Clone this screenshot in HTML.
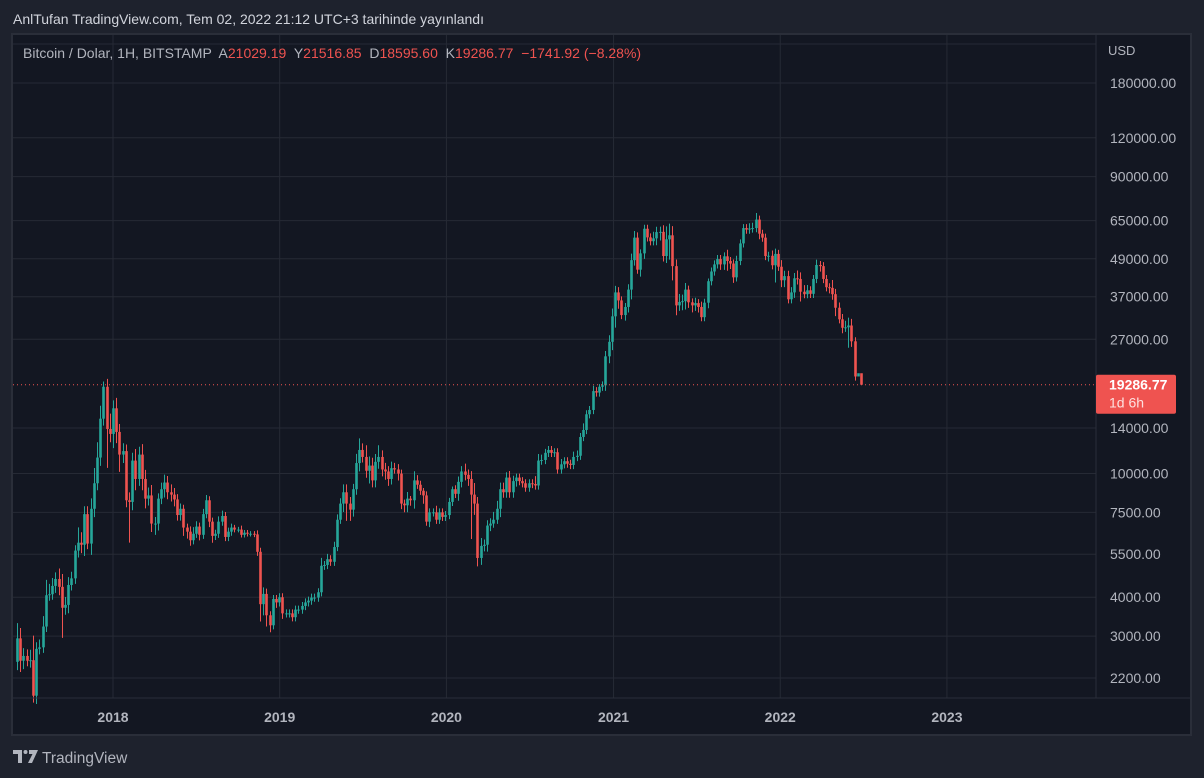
<!DOCTYPE html>
<html><head><meta charset="utf-8">
<style>
html,body{margin:0;padding:0;background:#1e222d;width:1204px;height:778px;overflow:hidden;font-family:"Liberation Sans",sans-serif;}
svg{display:block}
</style></head>
<body>
<svg id="chart" width="1204" height="778" xmlns="http://www.w3.org/2000/svg">
  <rect x="0" y="0" width="1204" height="778" fill="#1e222d"/>
  <text x="13" y="24" fill="#d1d4dc" font-size="14">AnlTufan TradingView.com, Tem 02, 2022 21:12 UTC+3 tarihinde yayınlandı</text>
  <rect x="12" y="34" width="1179" height="701" fill="#131722" stroke="#2a2e39" stroke-width="2"/>
  <g id="grid"></g>
  <g id="candles"></g>
  <line x1="1096" y1="34" x2="1096" y2="698" stroke="#2a2e39" stroke-width="1"/>
  <line x1="12" y1="698" x2="1191" y2="698" stroke="#2a2e39" stroke-width="1"/>
  <g id="yaxis"></g>
  <g id="xaxis"></g>
  <text x="1108" y="55" fill="#b2b5be" font-size="13">USD</text>
  <text x="23" y="58" font-size="14" fill="#b2b5be" style="white-space:pre" xml:space="preserve">Bitcoin / Dolar, 1H, BITSTAMP  A<tspan fill="#ef5350">21029.19</tspan>  Y<tspan fill="#ef5350">21516.85</tspan>  D<tspan fill="#ef5350">18595.60</tspan>  K<tspan fill="#ef5350">19286.77</tspan>  <tspan fill="#ef5350">−1741.92 (−8.28%)</tspan></text>
  <g id="lastprice"></g>
  <g>
    <path d="M13 750 h9 v13 h-4 v-9 h-5 z" fill="#b2b5be"/>
    <circle cx="25.5" cy="752" r="2" fill="#b2b5be"/>
    <path d="M29 750 h9 l-6 13 h-4 l4.5 -9 h-3.5 z" fill="#b2b5be"/>
    <text x="42" y="763" fill="#b2b5be" font-size="15.5">TradingView</text>
  </g>
</svg>
<script>
const startDate = "2017-06-05";
const closes = [
2950,2500,2590,2500,2510,1930,2730,2760,3220,4060,4090,4350,4580,4320,3700,3780,4380,4600,5650,5990,5900,7400,5950,7700,9300,11250,15000,19000,13900,13400,
16200,13600,11500,11800,8200,8100,11000,9600,11500,9600,8300,8500,6900,6900,8300,8900,9350,8700,8550,8250,7350,7700,6700,6500,6100,6400,6750,6350,7400,8200,7000,6300,6400,7000,7300,6250,6500,6700,6600,6600,6350,6450,6400,6400,6370,5600,3800,4100,3500,3250,3950,3850,4000,
3550,3550,3550,3450,3650,3650,3750,3850,3900,3990,3990,4150,5050,5080,5300,5200,5800,7100,8000,8700,8000,7650,8900,10800,11900,11300,10200,10600,9500,10900,11300,10300,10150,9600,10400,10300,9990,8000,7900,8300,8200,9500,9200,8800,8500,7000,7500,7500,7100,7500,7250,7350,
8100,8900,8600,9400,10150,9900,9600,8550,8000,5350,5850,5900,6800,6900,7100,7700,8900,8700,9700,8700,9450,9700,9450,9300,9000,9300,9250,9150,11000,11050,11650,11900,11650,11700,10300,10700,10950,10750,10650,11300,11400,13100,13800,15500,16000,18400,18200,19000,19200,23800,26500,32000,
38200,36000,32300,34300,39000,48500,57300,45200,51000,61200,57400,55800,57000,59700,59800,50000,56600,58300,46400,34700,35600,35800,39000,35500,34700,35300,34300,31800,35400,41500,44600,47000,48900,47000,49900,48200,47300,42700,48200,54900,61500,60800,61300,61500,65500,59000,57300,50000,50100,46700,50800,46200,
41800,43100,36300,38200,42400,42200,38400,37700,38800,37800,42200,46800,46400,42200,39700,39500,37700,34100,31300,29400,29500,29900,26600,20500,21000,19286.77];
const firstOpen = 2480;
const highPct = [
12,8,6,5,8,20,5,6,8,12,8,6,5,8,10,6,6,5,4,12,8,6,6,8,12,12,10,4,6,12,
6,8,6,6,5,6,6,9,6,8,7,6,8,5,4,5,6,5,6,5,4,4,3,3,4,5,4,3,4,4,3,3,3,4,4,3,3,3,2,2,3,2,2,2,2,3,3,5,4,3,3,3,3,
3,3,3,3,3,3,3,3,3,3,3,3,6,3,4,3,4,4,4,6,6,5,4,7,9,5,9,7,6,6,9,5,5,4,5,4,4,3,3,5,2,7,4,3,2,3,3,3,5,3,
3,3,3,2,3,4,4,6,4,6,9,5,6,4,4,4,6,6,5,5,4,5,4,3,3,3,3,3,3,6,5,4,3,3,3,3,3,4,3,3,3,4,4,3,5,3,3,4,3,2,3,4,
5,6,5,4,3,3,4,5,5,4,3,3,3,3,5,4,4,5,10,9,7,5,6,5,5,3,3,4,3,4,3,2,3,3,3,3,3,5,3,3,4,3,3,3,4,4,5,3,3,3,3,4,
4,3,5,4,4,4,4,6,5,5,4,3,3,4,3,3,3,3,6,4,4,4,5,6,5,3];
const lowPct = [
6,8,6,4,5,5,6,4,4,4,4,4,5,6,20,5,6,4,4,5,6,8,4,8,6,5,6,5,25,6,
10,8,12,6,5,26,6,8,5,8,7,5,6,8,5,4,6,5,5,5,4,4,6,5,4,3,3,4,3,3,4,5,3,3,3,3,3,3,2,2,2,2,2,2,2,3,12,8,8,5,3,4,3,
4,3,3,3,3,3,3,3,3,3,3,3,3,3,3,3,3,3,3,6,12,8,5,4,6,4,5,9,5,5,5,5,6,5,4,3,5,4,5,5,4,6,3,3,6,3,4,3,3,3,
3,3,3,3,3,5,4,4,5,28,8,6,5,4,5,4,3,3,6,4,4,4,4,4,3,3,3,3,3,3,3,3,3,3,3,3,3,3,3,3,3,3,3,3,3,3,3,3,3,3,3,4,
5,6,8,6,3,4,4,7,4,3,5,4,3,3,3,5,6,4,5,14,10,7,4,6,6,4,5,4,4,3,3,4,3,3,3,4,4,7,4,4,3,3,3,3,3,3,3,4,3,3,4,3,
12,3,5,5,3,3,4,4,7,3,3,3,3,3,4,3,3,4,4,6,3,4,3,14,4,3];
const yTicks = [180000,120000,90000,65000,49000,37000,27000,14000,10000,7500,5500,4000,3000,2200];
const xTickLabels = ["2018","2019","2020","2021","2022","2023"];

const NS="http://www.w3.org/2000/svg";
function yOf(p){ return 83 + (Math.log(180000)-Math.log(p))*135.09; }
const t0 = Date.UTC(2018,0,1);
function xOf(ms){ return 113 + (ms - t0)/86400000*0.4567; }
function mk(tag,attrs,parent){ const e=document.createElementNS(NS,tag); for(const k in attrs) e.setAttribute(k,attrs[k]); parent.appendChild(e); return e; }

const grid=document.getElementById('grid');
const yaxis=document.getElementById('yaxis');
const xaxis=document.getElementById('xaxis');
const cg=document.getElementById('candles');

let gl=mk('line',{x1:13,x2:1096,y1:44,y2:44,stroke:'#262a35','stroke-width':1},grid);


yTicks.forEach(v=>{
  const y=yOf(v);
  const l=mk('line',{x1:13,x2:1096,y1:y,y2:y,stroke:'#262a35','stroke-width':1},grid);
  
  
  const t=mk('text',{x:1110,y:y+5,fill:'#b2b5be','font-size':14},yaxis);
  t.textContent=v.toFixed(2);
  
  
});
xTickLabels.forEach(s=>{
  const x=xOf(Date.UTC(+s,0,1));
  const l=mk('line',{x1:x,x2:x,y1:35,y2:698,stroke:'#262a35','stroke-width':1},grid);
  
  
  const t=mk('text',{x:x,y:722,fill:'#b2b5be','font-size':14,'font-weight':'bold','text-anchor':'middle'},xaxis);
  t.textContent=s;
  
  
});

const s0=Date.parse(startDate+"T00:00:00Z");
let prev=firstOpen;
closes.forEach((c,i)=>{
  const o=prev; prev=c;
  const hi=Math.max(o,c)*(1+highPct[i]/100);
  const lo=Math.min(o,c)*(1-lowPct[i]/100);
  const x=Math.round(xOf(s0+i*7*86400000))+0.5;
  const col=c>=o?'#26a69a':'#ef5350';
  const w=mk('line',{x1:x,x2:x,y1:yOf(hi),y2:yOf(lo),stroke:col,'stroke-width':1},cg);
  
  
  const yt=yOf(Math.max(o,c)), yb=yOf(Math.min(o,c));
  const b=mk('rect',{x:x-1.3,y:yt,width:2.6,height:Math.max(1,yb-yt),fill:col},cg);
  
  
});

const lp=document.getElementById('lastprice');
const last=closes[closes.length-1];
const ly=yOf(last);
const dl=mk('line',{x1:13,x2:1096,y1:ly,y2:ly,stroke:'#ef5350','stroke-width':1,'stroke-dasharray':'1 3'},lp);


const bx=mk('rect',{x:1096,y:ly-10,width:80,height:39,rx:2,fill:'#ef5350'},lp);


const t1=mk('text',{x:1109,y:ly+5,fill:'#ffffff','font-size':14,'font-weight':'bold'},lp);
t1.textContent=last.toFixed(2);


const t2=mk('text',{x:1109,y:ly+23,fill:'#fde0df','font-size':14},lp);
t2.textContent='1d 6h';


</script>
</body></html>
